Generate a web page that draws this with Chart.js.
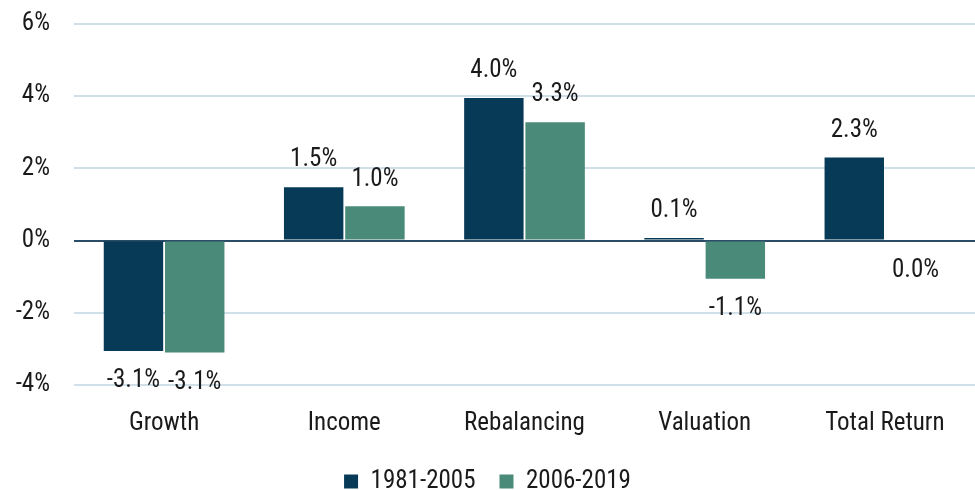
<!DOCTYPE html>
<html><head><meta charset="utf-8">
<script src="https://cdn.jsdelivr.net/npm/chart.js@4"></script>
<style>html,body{margin:0;padding:0;background:#fff}#wrap{width:975px;height:490px}</style>
</head><body><div id="wrap"><canvas id="c" width="975" height="490"></canvas></div>
<script>
const categories = ["Growth", "Income", "Rebalancing", "Valuation", "Total Return"];
const series1Name = "1981-2005";
const series2Name = "2006-2019";
const series1 = [-3.06, 1.48, 3.95, 0.07, 2.3];
const series2 = [-3.1, 0.95, 3.28, -1.06, 0.0];
const yTicks = [-4, -2, 0, 2, 4, 6];

const FONT = "'Liberation Sans Narrow', 'Roboto Condensed', Roboto, sans-serif";
const NAVY = "#073a57";
const TEAL = "#4a8a78";
const FS = 25;

const labelPlugin = {
  id: 'barLabels',
  beforeLayout(chart) {
    const lg = chart.legend;
    if (lg && !lg._fixed) {
      lg._fixed = true;
      const orig = lg.fit;
      lg.fit = function () { orig.call(this); this.height = 45; };
    }
  },
  afterDatasetsDraw(chart) {
    const ctx = chart.ctx;
    const ys = chart.scales.y;
    ctx.save();
    ctx.font = FS + "px " + FONT;
    ctx.fillStyle = "#1a1a1a";
    ctx.textAlign = "center";
    ctx.textBaseline = "middle";
    chart.data.datasets.forEach((ds, di) => {
      const meta = chart.getDatasetMeta(di);
      meta.data.forEach((bar, i) => {
        const v = ds.data[i];
        const txt = (Math.round(v * 10) / 10).toFixed(1) + "%";
        const yEnd = ys.getPixelForValue(v);
        const y = v > 0 ? yEnd - 27 : yEnd + 30;
        ctx.fillText(txt, bar.x, y);
      });
    });
    ctx.restore();
  }
};

new Chart(document.getElementById('c'), {
  type: 'bar',
  data: {
    labels: categories,
    datasets: [
      { label: series1Name, data: series1, backgroundColor: NAVY, categoryPercentage: 0.68, barPercentage: 0.97 },
      { label: series2Name, data: series2, backgroundColor: TEAL, categoryPercentage: 0.68, barPercentage: 0.97 }
    ]
  },
  options: {
    responsive: false,
    animation: false,
    devicePixelRatio: 1,
    layout: { padding: { top: 24, right: 0, left: 0, bottom: 0 } },
    plugins: {
      legend: {
        position: 'bottom',
        labels: { font: { family: FONT, size: FS }, color: "#1a1a1a", boxWidth: 14, boxHeight: 14, padding: 24 }
      },
      tooltip: { enabled: false }
    },
    scales: {
      x: {
        grid: { display: false },
        border: { display: false },
        ticks: { font: { family: FONT, size: FS }, color: "#1a1a1a", padding: 16 },
        afterFit(scale) { scale.height = 60; }
      },
      y: {
        min: -4, max: 6,
        afterBuildTicks(scale) { scale.ticks = yTicks.map(v => ({ value: v })); },
        afterFit(scale) { scale.width = 74; scale.paddingTop = 0; scale.paddingBottom = 0; },
        border: { display: false },
        grid: {
          drawTicks: false,
          color: ctx => ctx.tick && ctx.tick.value === 0 ? "#2b4d68" : "#cfe0ea",
          lineWidth: 2
        },
        ticks: { font: { family: FONT, size: FS }, color: "#1a1a1a", padding: 24, callback: v => v + "%" }
      }
    }
  },
  plugins: [labelPlugin]
});
</script></body></html>
